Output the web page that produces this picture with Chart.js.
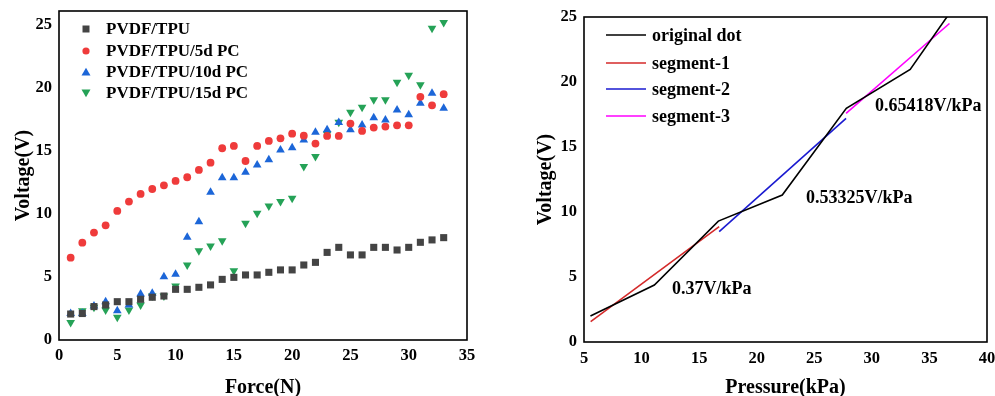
<!DOCTYPE html>
<html><head><meta charset="utf-8">
<script src="https://cdn.jsdelivr.net/npm/chart.js@4.4.0/dist/chart.umd.min.js"></script>
<style>
html,body{margin:0;padding:0;background:#fff;}
#wrap{position:relative;width:995px;height:396px;overflow:hidden;}
#c1{position:absolute;left:0;top:0;}
#c2{position:absolute;left:520px;top:0;}
</style></head><body>
<div id="wrap"><canvas id="c1" width="480" height="396"></canvas><canvas id="c2" width="475" height="396"></canvas></div>
<script>
// ---------- Left chart data ----------
const forceN = [1,2,3,4,5,6,7,8,9,10,11,12,13,14,15,16,17,18,19,20,21,22,23,24,25,26,27,28,29,30,31,32,33];
const vPvdfTpu = [2.06,2.1,2.65,2.78,3.04,3.04,3.23,3.39,3.49,4.02,4.02,4.18,4.37,4.81,4.97,5.16,5.16,5.37,5.56,5.56,5.95,6.16,6.95,7.35,6.75,6.75,7.35,7.35,7.14,7.35,7.75,7.94,8.12];
const vPc5d = [6.53,7.72,8.52,9.1,10.24,10.98,11.59,11.98,12.27,12.62,12.91,13.49,14.07,15.21,15.4,14.2,15.4,15.79,16.0,16.37,16.21,15.58,16.19,16.19,17.17,16.59,16.85,16.93,17.03,17.03,19.29,18.62,19.5];
const vPc10d = [2.1,2.1,2.7,3.04,2.33,2.78,3.65,3.7,5.02,5.21,8.15,9.39,11.72,12.88,12.88,13.31,13.89,14.29,15.08,15.26,15.87,16.48,16.67,17.25,16.67,17.06,17.64,17.46,18.25,17.86,18.78,19.58,18.39];
const vPc15d = [1.38,2.33,2.59,2.38,1.8,2.38,2.78,3.49,3.49,4.29,5.95,7.09,7.46,7.88,5.5,9.26,10.05,10.63,10.98,11.24,13.76,14.55,16.35,17.28,18.07,18.46,19.05,19.05,20.45,21.0,20.24,24.74,25.19];
const leftSeriesNames = ['PVDF/TPU','PVDF/TPU/5d PC','PVDF/TPU/10d PC','PVDF/TPU/15d PC'];
const leftXTicks = [0,5,10,15,20,25,30,35];
const leftYTicks = [0,5,10,15,20,25];

// ---------- Right chart data ----------
const pressureOrig = [5.56,11.11,16.67,22.22,27.78,33.33,38.89];
const voltageOrig = [2.0,4.38,9.3,11.3,17.97,20.97,28.0];
const seg1P = [5.58,16.74]; const seg1V = [1.56,8.87];
const seg2P = [16.74,27.76]; const seg2V = [8.49,17.2];
const seg3P = [27.76,36.74]; const seg3V = [17.59,24.5];
const rightSeriesNames = ['original dot','segment-1','segment-2','segment-3'];
const slopeLabels = ['0.37V/kPa','0.53325V/kPa','0.65418V/kPa'];
const slopeLabelPos = [[16.1,4.05],[28.9,11.05],[34.9,18.1]];
const rightXTicks = [5,10,15,20,25,30,35,40];
const rightYTicks = [0,5,10,15,20,25];

const SERIF = '"Liberation Serif","Times New Roman",serif';
const pts = (xs, ys) => xs.map((x, i) => ({x: x, y: ys[i]}));

const frame = {
  id: 'frame',
  afterDatasetsDraw(chart) {
    const a = chart.chartArea, ctx = chart.ctx;
    ctx.save();
    ctx.strokeStyle = '#000';
    ctx.lineWidth = 1.6;
    ctx.strokeRect(a.left, a.top, a.right - a.left, a.bottom - a.top);
    ctx.restore();
  }
};

function marker(ctx, kind, x, y, color) {
  ctx.fillStyle = color;
  ctx.beginPath();
  if (kind === 'rect') { ctx.rect(x - 3.5, y - 3.5, 7, 7); }
  else if (kind === 'circle') { ctx.arc(x, y, 3.6, 0, Math.PI * 2); }
  else if (kind === 'up') { ctx.moveTo(x, y - 4.3); ctx.lineTo(x + 4.5, y + 3.5); ctx.lineTo(x - 4.5, y + 3.5); ctx.closePath(); }
  else { ctx.moveTo(x, y + 4.3); ctx.lineTo(x + 4.5, y - 3.5); ctx.lineTo(x - 4.5, y - 3.5); ctx.closePath(); }
  ctx.fill();
}

const leftColors = ['#444444','#ef3b3b','#1c66d8','#25a257'];
const leftKinds = ['rect','circle','up','down'];
const leftLegend = {
  id: 'leftLegend',
  afterDraw(chart) {
    const ctx = chart.ctx;
    const rows = [29, 51, 72, 93];
    ctx.save();
    ctx.font = 'bold 17px ' + SERIF;
    ctx.textBaseline = 'middle';
    ctx.textAlign = 'left';
    leftSeriesNames.forEach((n, i) => {
      marker(ctx, leftKinds[i], 86, rows[i], leftColors[i]);
      ctx.fillStyle = '#000';
      ctx.fillText(n, 106, rows[i] + 1);
    });
    ctx.restore();
  }
};

const rightColors = ['#000000','#d42a2a','#1a1ad0','#ff00ff'];
const rightLegend = {
  id: 'rightLegend',
  afterDraw(chart) {
    const ctx = chart.ctx;
    const rows = [35, 63, 89, 116];
    ctx.save();
    ctx.font = 'bold 18px ' + SERIF;
    ctx.textBaseline = 'middle';
    ctx.textAlign = 'left';
    rightSeriesNames.forEach((n, i) => {
      ctx.strokeStyle = rightColors[i];
      ctx.lineWidth = 1.6;
      ctx.beginPath(); ctx.moveTo(86, rows[i]); ctx.lineTo(126, rows[i]); ctx.stroke();
      ctx.fillStyle = '#000';
      ctx.fillText(n, 132, rows[i] + 1);
    });
    const xs = chart.scales.x, ys = chart.scales.y;
    slopeLabels.forEach((t, i) => {
      ctx.textAlign = 'center';
      ctx.fillText(t, xs.getPixelForValue(slopeLabelPos[i][0]), ys.getPixelForValue(slopeLabelPos[i][1]));
    });
    ctx.restore();
  }
};

function axisOpts(min, max, tickVals, title, isX, fitSize, tickPad, titlePad) {
  return {
    type: 'linear', min: min, max: max,
    grid: {display: false, drawTicks: false},
    border: {display: false},
    ticks: {
      color: '#000', font: {family: SERIF, size: 16.5, weight: 'bold'},
      padding: tickPad, autoSkip: false, maxRotation: 0,
      callback: v => String(v)
    },
    afterBuildTicks: s => { s.ticks = tickVals.map(v => ({value: v})); },
    afterFit: s => {
      if (isX) s.height = fitSize; else s.width = fitSize;
      s.paddingTop = 0; s.paddingBottom = 0; s.paddingLeft = 0; s.paddingRight = 0;
    },
    title: {display: true, text: title, color: '#000',
      font: {family: SERIF, size: 20, weight: 'bold', lineHeight: 1}, padding: titlePad}
  };
}

new Chart(document.getElementById('c1'), {
  type: 'scatter',
  data: {
    datasets: [
      {label: leftSeriesNames[0], data: pts(forceN, vPvdfTpu), pointStyle: 'rect', pointRadius: 5, backgroundColor: leftColors[0], borderWidth: 0},
      {label: leftSeriesNames[1], data: pts(forceN, vPc5d), pointStyle: 'circle', pointRadius: 3.9, backgroundColor: leftColors[1], borderWidth: 0},
      {label: leftSeriesNames[2], data: pts(forceN, vPc10d), pointStyle: 'triangle', pointRadius: 5, backgroundColor: leftColors[2], borderWidth: 0},
      {label: leftSeriesNames[3], data: pts(forceN, vPc15d), pointStyle: 'triangle', rotation: 180, pointRadius: 5, backgroundColor: leftColors[3], borderWidth: 0}
    ]
  },
  options: {
    responsive: false, animation: false,
    layout: {padding: {left: 0, top: 11, right: 13, bottom: 0}},
    plugins: {legend: {display: false}, tooltip: {enabled: false}},
    scales: {
      x: axisOpts(0, 35, leftXTicks, 'Force(N)', true, 56, 6, {top: 0, bottom: -2}),
      y: axisOpts(0, 26.1, leftYTicks, 'Voltage(V)', false, 59, 7, {top: 14, bottom: 0})
    }
  },
  plugins: [frame, leftLegend]
});

new Chart(document.getElementById('c2'), {
  type: 'scatter',
  data: {
    datasets: [
      {label: rightSeriesNames[0], data: pts(pressureOrig, voltageOrig), showLine: true, pointRadius: 0, borderColor: rightColors[0], borderWidth: 1.6, tension: 0},
      {label: rightSeriesNames[1], data: pts(seg1P, seg1V), showLine: true, pointRadius: 0, borderColor: rightColors[1], borderWidth: 1.6},
      {label: rightSeriesNames[2], data: pts(seg2P, seg2V), showLine: true, pointRadius: 0, borderColor: rightColors[2], borderWidth: 1.6},
      {label: rightSeriesNames[3], data: pts(seg3P, seg3V), showLine: true, pointRadius: 0, borderColor: rightColors[3], borderWidth: 1.6}
    ]
  },
  options: {
    responsive: false, animation: false,
    layout: {padding: {left: 0, top: 17, right: 8, bottom: 0}},
    plugins: {legend: {display: false}, tooltip: {enabled: false}},
    scales: {
      x: axisOpts(5, 40, rightXTicks, 'Pressure(kPa)', true, 54, 7, {top: 0, bottom: -2}),
      y: axisOpts(0, 25, rightYTicks, 'Voltage(V)', false, 64, 7, {top: 16, bottom: 0})
    }
  },
  plugins: [frame, rightLegend]
});
</script>
</body></html>
